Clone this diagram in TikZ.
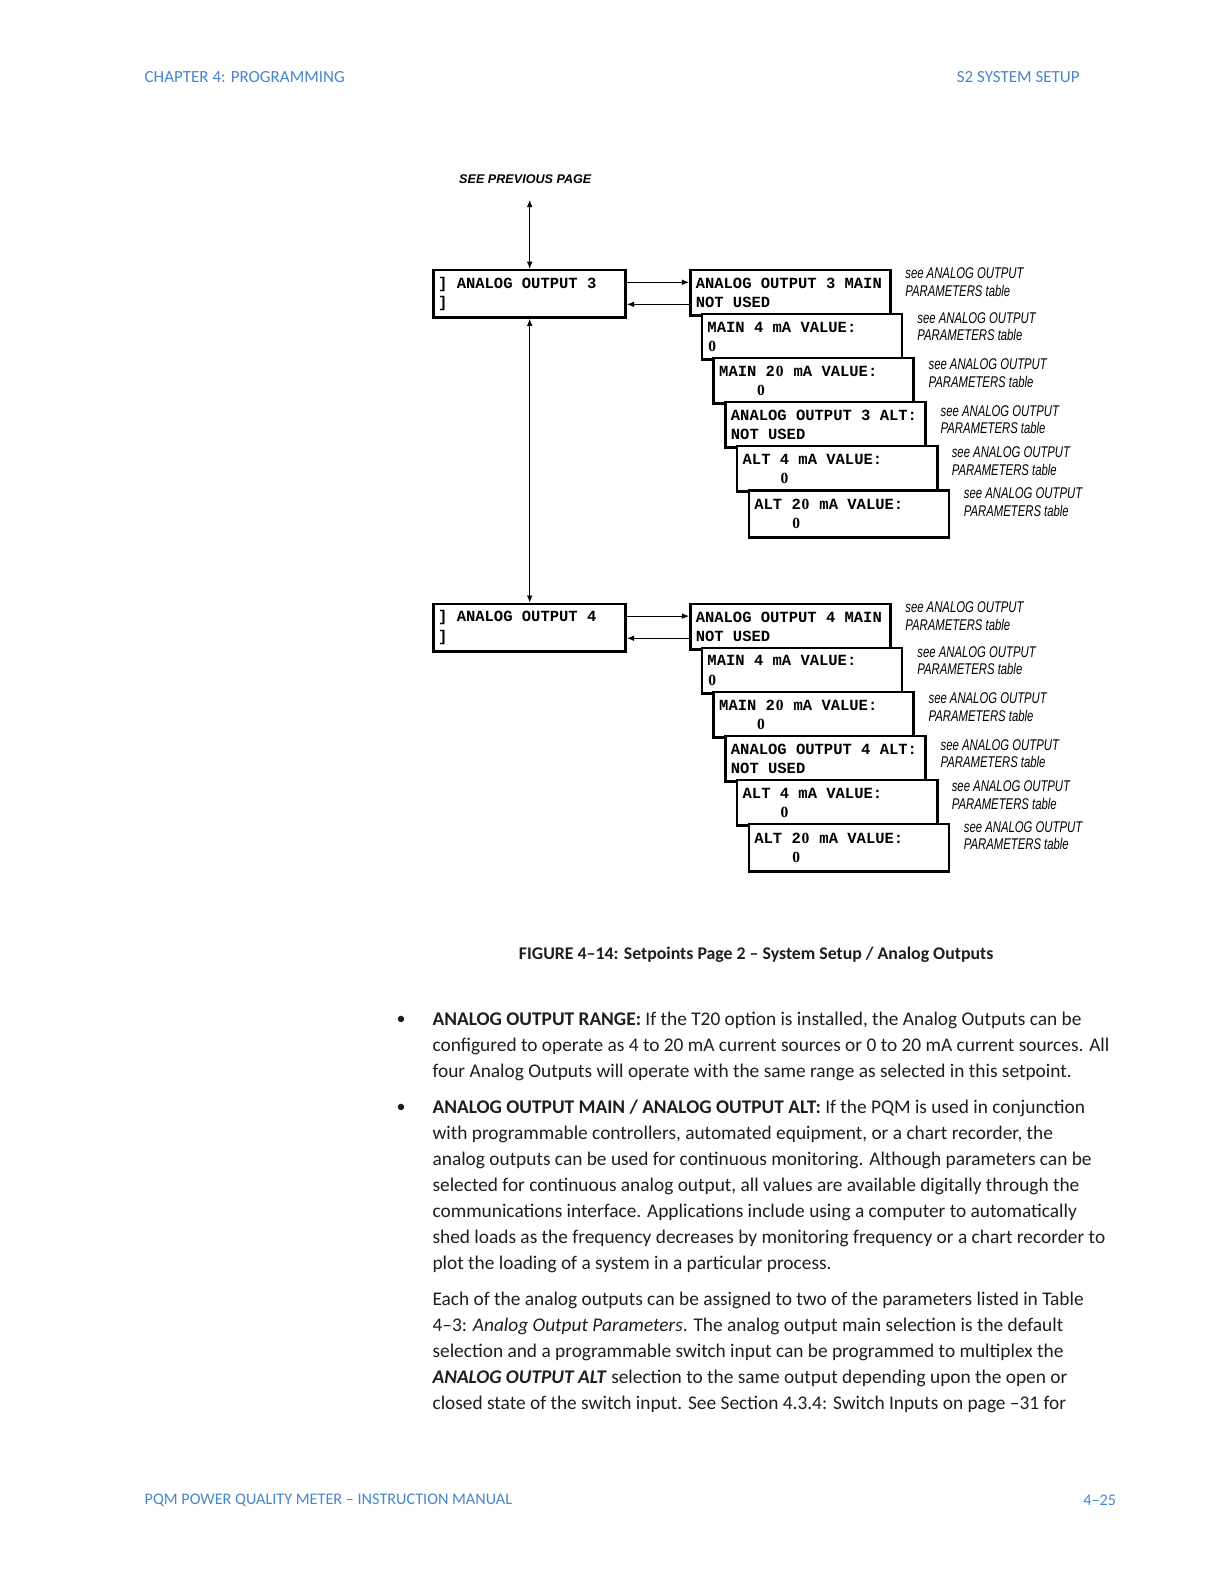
\documentclass[tikz,border=0pt]{standalone}
\usepackage{fontspec}
\setmainfont{Carlito}
\setmonofont{Liberation Mono}
\newfontfamily\labelfont[FakeStretch=0.73]{Liberation Sans}
\newfontfamily\headsans{Liberation Sans}
\newfontfamily\zerofont{Liberation Serif}
\usetikzlibrary{arrows.meta,calc}
\definecolor{hdrblue}{RGB}{72,134,204}
\definecolor{bodytext}{RGB}{30,30,30}
\newcommand\zr{\makebox[0.6em]{\zerofont 0}}
\newcommand\msp{\spaceskip=0.6em\relax}

\newcommand\aostack[3]{% #1 prefix, #2 vertical offset, #3 output number
  \node[topbox] (#1top) at (428,266+#2) {\msp ] ANALOG OUTPUT #3\\]};
  \node[menu] (#1m0) at (682,266+#2) {\msp ANALOG OUTPUT #3 MAIN\\NOT USED};
  \node[menu] (#1m1) at (693.6,309.6+#2) {\msp MAIN 4 mA VALUE:\\\zr};
  \node[menu] (#1m2) at (705.2,353.2+#2) {\msp MAIN 2\zr{} mA VALUE:\\\hspace*{2.4em}\zr};
  \node[menu] (#1m3) at (716.8,396.8+#2) {\msp ANALOG OUTPUT #3 ALT:\\NOT USED};
  \node[menu] (#1m4) at (728.4,440.4+#2) {\msp ALT 4 mA VALUE:\\\hspace*{2.4em}\zr};
  \node[menu,minimum height=47.5pt] (#1m5) at (740,484+#2) {\msp ALT 2\zr{} mA VALUE:\\\hspace*{2.4em}\zr};
  \node[note] (#1n0) at (896,279.5+#2) {see ANALOG OUTPUT\\PARAMETERS table};
  \node[note] (#1n1) at (908,323.5+#2) {see ANALOG OUTPUT\\PARAMETERS table};
  \node[note] (#1n2) at (919,369.5+#2) {see ANALOG OUTPUT\\PARAMETERS table};
  \node[note] (#1n3) at (931,415.5+#2) {see ANALOG OUTPUT\\PARAMETERS table};
  \node[note] (#1n4) at (942,456.5+#2) {see ANALOG OUTPUT\\PARAMETERS table};
  \node[note] (#1n5) at (954,497+#2) {see ANALOG OUTPUT\\PARAMETERS table};
  \coordinate (#1go) at ($(#1top.east)+(0,-11.4)$);
  \coordinate (#1back) at ($(#1top.east)+(0,10.5)$);
  \draw[link] (#1go) -- (#1go -| #1m0.west);
  \draw[link] (#1back -| #1m0.west) -- (#1back);
}

\begin{document}
\begin{tikzpicture}[x=1.0099pt,y=-1.0099pt,
  menu/.style={draw=black,line width=2.6pt,fill=white,anchor=north west,
    minimum height=45.4pt,text width=189pt,inner xsep=5.5pt,inner ysep=0pt,align=left,
    font=\ttfamily\bfseries\fontsize{15.5}{19.4}\selectfont},
  topbox/.style={menu,minimum height=47.5pt,text width=183pt,inner xsep=4.5pt},
  note/.style={anchor=west,align=left,inner sep=0pt,
    font=\labelfont\itshape\fontsize{15.5}{17.4}\selectfont},
  link/.style={line width=0.8pt,-{Latex[length=7pt,width=5.5pt]}},
  dlink/.style={line width=0.8pt,{Latex[length=7pt,width=5.5pt]}-{Latex[length=7pt,width=5.5pt]}},
  hdr/.style={inner sep=0pt,text=hdrblue,font=\fontsize{17}{20}\selectfont},
  ftr/.style={inner sep=0pt,text=hdrblue,font=\fontsize{16.2}{20}\selectfont},
  body/.style={anchor=north west,align=left,inner sep=0pt,text=bodytext,
    font=\fontsize{19.35}{25.9}\selectfont},
  bullet/.style={inner sep=0pt,text=bodytext,font=\fontsize{18}{20}\selectfont},
]
\fill[white] (0,0) rectangle (1212,1568);
\useasboundingbox (0,0) rectangle (1212,1568);

% header and footer
\node[hdr,anchor=west] (h1) at (143,76) {CHAPTER 4: PROGRAMMING};
\node[hdr,anchor=east] (h2) at (1069,76) {S2 SYSTEM SETUP};
\node[ftr,anchor=west] (f1) at (143,1485) {PQM POWER QUALITY METER – INSTRUCTION MANUAL};
\node[ftr,anchor=east] (f2) at (1105,1485) {4–25};

% diagram
\node[inner sep=0pt,font=\headsans\bfseries\itshape\fontsize{12.6}{14}\selectfont] (prev) at (520,177) {SEE PREVIOUS PAGE};
\aostack{a}{0}{3}
\aostack{b}{330.5}{4}
\coordinate (up) at ($(atop.north)+(0,-68)$);
\draw[dlink] (up) -- (atop.north);
\draw[dlink] (atop.south) -- (btop.north);

% caption
\node[inner sep=0pt,text=bodytext,font=\bfseries\fontsize{17.8}{20}\selectfont] (cap) at (748.5,945)
  {FIGURE 4–14: Setpoints Page 2 – System Setup / Analog Outputs};

% body text
\node[bullet] (b1) at (397,1010) {•};
\node[body] (p1) at (428,1002) {\textbf{ANALOG OUTPUT RANGE:} If the T20 option is installed, the Analog Outputs can be\\
configured to operate as 4 to 20 mA current sources or 0 to 20 mA current sources. All\\
four Analog Outputs will operate with the same range as selected in this setpoint.};
\node[bullet] (b2) at (397,1097) {•};
\node[body] (p2) at (428,1089) {\textbf{ANALOG OUTPUT MAIN / ANALOG OUTPUT ALT:} If the PQM is used in conjunction\\
with programmable controllers, automated equipment, or a chart recorder, the\\
analog outputs can be used for continuous monitoring. Although parameters can be\\
selected for continuous analog output, all values are available digitally through the\\
communications interface. Applications include using a computer to automatically\\
shed loads as the frequency decreases by monitoring frequency or a chart recorder to\\
plot the loading of a system in a particular process.};
\node[body] (p3) at (428,1279) {Each of the analog outputs can be assigned to two of the parameters listed in Table\\
4–3: \textit{Analog Output Parameters}. The analog output main selection is the default\\
selection and a programmable switch input can be programmed to multiplex the\\
\textbf{\textit{ANALOG OUTPUT ALT}} selection to the same output depending upon the open or\\
closed state of the switch input. See Section 4.3.4: Switch Inputs on page –31 for};
\end{tikzpicture}
\end{document}
